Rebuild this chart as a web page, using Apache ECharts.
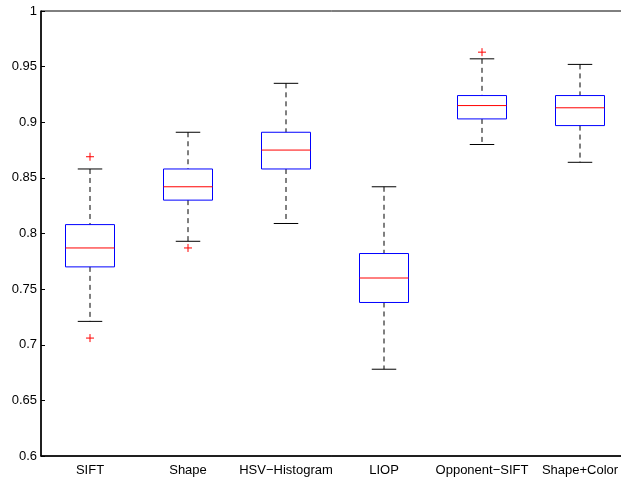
<!DOCTYPE html>
<html>
<head>
<meta charset="utf-8">
<script src="https://cdn.jsdelivr.net/npm/echarts@6/dist/echarts.min.js"></script>
<style>
  html, body { margin: 0; padding: 0; background: #fff; }
  #main { width: 621px; height: 478px; }
</style>
</head>
<body>
<div id="main"></div>
<script>
// values
var categories = ['SIFT', 'Shape', 'HSV\u2212Histogram', 'LIOP', 'Opponent\u2212SIFT', 'Shape+Color'];
var lowerWhisker = [0.721, 0.793, 0.809, 0.678, 0.880, 0.864];
var q1 = [0.770, 0.830, 0.858, 0.738, 0.903, 0.897];
var median = [0.787, 0.842, 0.875, 0.760, 0.915, 0.913];
var q3 = [0.808, 0.858, 0.891, 0.782, 0.924, 0.924];
var upperWhisker = [0.858, 0.891, 0.935, 0.842, 0.957, 0.952];
var outliers = [[0, 0.869], [0, 0.706], [1, 0.787], [4, 0.963]];
var yTicks = [0.6, 1, 0.05];

var boxData = categories.map(function (c, i) {
  return [i, lowerWhisker[i], q1[i], median[i], q3[i], upperWhisker[i]];
});

var dom = document.getElementById('main');
var myChart = echarts.init(dom, null, { renderer: 'canvas' });

function renderBox(params, api) {
  var x = api.value(0);
  var lo = api.coord([x, api.value(1)]);
  var b1 = api.coord([x, api.value(2)]);
  var md = api.coord([x, api.value(3)]);
  var b3 = api.coord([x, api.value(4)]);
  var hi = api.coord([x, api.value(5)]);
  var half = api.size([1, 0])[0] * 0.25;
  var cap = half / 2;
  var cx = lo[0];
  var dash = { stroke: '#000', lineWidth: 1, lineDash: [5, 4] };
  var solid = { stroke: '#000', lineWidth: 1 };
  return {
    type: 'group',
    children: [
      { type: 'line', shape: { x1: cx, y1: hi[1], x2: cx, y2: b3[1] }, style: dash },
      { type: 'line', shape: { x1: cx, y1: b1[1], x2: cx, y2: lo[1] }, style: dash },
      { type: 'line', shape: { x1: cx - cap, y1: hi[1], x2: cx + cap, y2: hi[1] }, style: solid },
      { type: 'line', shape: { x1: cx - cap, y1: lo[1], x2: cx + cap, y2: lo[1] }, style: solid },
      { type: 'rect', shape: { x: cx - half, y: b3[1], width: half * 2, height: b1[1] - b3[1] },
        style: { fill: 'none', stroke: '#0000ff', lineWidth: 1 } },
      { type: 'line', shape: { x1: cx - half, y1: md[1], x2: cx + half, y2: md[1] },
        style: { stroke: '#ff0000', lineWidth: 1 } }
    ]
  };
}

function renderPlus(params, api) {
  var p = api.coord([api.value(0), api.value(1)]);
  var s = 4;
  var st = { stroke: '#ff0000', lineWidth: 1 };
  return {
    type: 'group',
    children: [
      { type: 'line', shape: { x1: p[0] - s, y1: p[1], x2: p[0] + s, y2: p[1] }, style: st },
      { type: 'line', shape: { x1: p[0], y1: p[1] - s, x2: p[0], y2: p[1] + s }, style: st }
    ]
  };
}

var option = {
  animation: false,
  backgroundColor: '#fff',
  textStyle: { fontFamily: 'Liberation Sans, Arial, sans-serif' },
  grid: {
    left: 41, right: -8, top: 11, bottom: 22,
    outerBoundsMode: 'none',
    containLabel: false,
    show: true, borderColor: '#000', borderWidth: 1
  },
  xAxis: {
    type: 'category',
    data: categories,
    boundaryGap: true,
    axisLine: { lineStyle: { color: '#000', width: 1.5 } },
    axisTick: { show: false },
    axisLabel: { color: '#000', fontSize: 13, margin: 8, interval: 0 },
    splitLine: { show: false }
  },
  yAxis: {
    type: 'value',
    min: yTicks[0],
    max: yTicks[1],
    interval: yTicks[2],
    axisLine: { show: true, lineStyle: { color: '#000', width: 1.5 } },
    axisTick: { show: true, inside: true, length: 4, lineStyle: { color: '#000' } },
    axisLabel: {
      color: '#000', fontSize: 13, margin: 4,
      formatter: function (v) { return String(+v.toFixed(2)); }
    },
    splitLine: { show: false }
  },
  series: [
    {
      type: 'custom',
      renderItem: renderBox,
      encode: { x: 0, y: [1, 2, 3, 4, 5] },
      data: boxData,
      silent: true
    },
    {
      type: 'custom',
      renderItem: renderPlus,
      encode: { x: 0, y: 1 },
      data: outliers,
      silent: true
    }
  ]
};

if (option && typeof option === 'object') {
  myChart.setOption(option);
}
window.addEventListener('resize', myChart.resize);
</script>
</body>
</html>
